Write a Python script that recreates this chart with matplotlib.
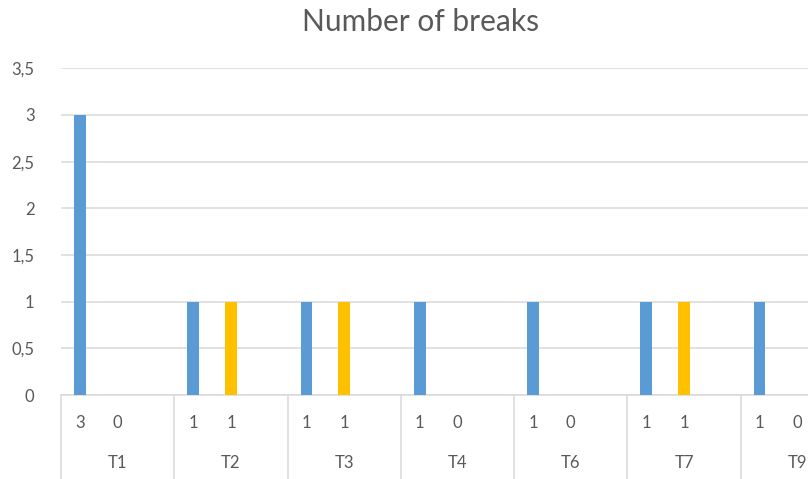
import numpy as np
import matplotlib
matplotlib.use("Agg")
import matplotlib.pyplot as plt
from matplotlib.ticker import FuncFormatter

# breaks per test, first and second run
groups = ["T1", "T2", "T3", "T4", "T6", "T7", "T9"]
first_run = [3, 1, 1, 1, 1, 1, 1]
second_run = [0, 1, 1, 0, 0, 1, 0]

BLUE = "#5B9BD5"
ORANGE = "#FFC000"
GRID = "#D9D9D9"
TEXT = "#595959"

plt.rcParams["font.family"] = ["Lato", "DejaVu Sans"]

W, H = 808, 479
fig = plt.figure(figsize=(W / 100, H / 100), dpi=100)
# plot area runs past the right edge (last group is cut off)
left, right, bottom, top = 61, 854, 395, 68.3
ax = fig.add_axes([left / W, 1 - bottom / H, (right - left) / W, (bottom - top) / H])

slots = 3  # each group: first, second, spare slot
n = len(groups)
x0 = np.arange(n) * slots + 0.5
x1 = x0 + 1
bw = 0.31

ax.bar(x0, first_run, width=bw, color=BLUE, zorder=3)
ax.bar(x1, second_run, width=bw, color=ORANGE, zorder=3)

ax.set_xlim(0, n * slots)
ax.set_ylim(0, 3.5)
ax.set_yticks(np.arange(0, 3.51, 0.5))
ax.yaxis.set_major_formatter(FuncFormatter(lambda v, p: f"{v:g}".replace(".", ",")))
ax.grid(axis="y", color=GRID, linewidth=1.1, zorder=0)
ax.tick_params(axis="y", length=0, pad=19, labelsize=12, labelcolor=TEXT)
ax.set_xticks([])
for s in ["top", "right", "left"]:
    ax.spines[s].set_visible(False)
ax.spines["bottom"].set_color(GRID)
ax.spines["bottom"].set_linewidth(1.1)

# multi-level category axis
trans = ax.get_xaxis_transform()
for k in range(n + 1):
    ax.plot([k * slots, k * slots], [0, -0.3], color=GRID, lw=1.1,
            transform=trans, clip_on=False)
for k, g in enumerate(groups):
    ax.text(x0[k], -0.086, str(first_run[k]), transform=trans, ha="center",
            va="center", fontsize=12, color=TEXT)
    ax.text(x1[k], -0.086, str(second_run[k]), transform=trans, ha="center",
            va="center", fontsize=12, color=TEXT)
    ax.text(k * slots + slots / 2, -0.208, g, transform=trans, ha="center",
            va="center", fontsize=12, color=TEXT)

fig.text(420 / W, 1 - 22 / H, "Number of breaks", ha="center", va="center",
         fontsize=21.5, color=TEXT)

fig.savefig("out.png", dpi=100)
